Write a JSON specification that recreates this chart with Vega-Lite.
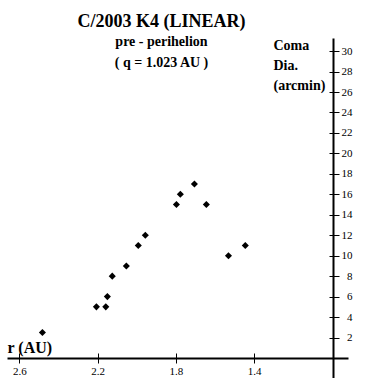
{
  "$schema": "https://vega.github.io/schema/vega-lite/v6.json",
  "width": 341,
  "height": 340,
  "autosize": {"type": "none"},
  "padding": {"left": 7, "top": 38, "right": 24, "bottom": 0},
  "background": "white",
  "title": {
    "text": "C/2003 K4 (LINEAR)",
    "subtitle": ["pre - perihelion", "( q = 1.023 AU )"],
    "anchor": "middle",
    "frame": "group",
    "font": "Liberation Serif",
    "fontSize": 18,
    "fontWeight": "bold",
    "color": "black",
    "subtitleFont": "Liberation Serif",
    "subtitleFontSize": 14,
    "subtitleFontWeight": "bold",
    "subtitleColor": "black",
    "subtitleLineHeight": 21,
    "subtitlePadding": 4,
    "offset": -32,
    "dx": -16
  },
  "data": {
    "values": [
      {"r": 2.482, "coma": 2.5},
      {"r": 2.206, "coma": 5},
      {"r": 2.158, "coma": 5},
      {"r": 2.150, "coma": 6},
      {"r": 2.125, "coma": 8},
      {"r": 2.053, "coma": 9},
      {"r": 1.992, "coma": 11},
      {"r": 1.956, "coma": 12},
      {"r": 1.797, "coma": 15},
      {"r": 1.777, "coma": 16},
      {"r": 1.705, "coma": 17},
      {"r": 1.644, "coma": 15},
      {"r": 1.531, "coma": 10},
      {"r": 1.445, "coma": 11}
    ]
  },
  "layer": [
    {
      "mark": {"type": "point", "shape": "diamond", "filled": true, "size": 50, "color": "black", "opacity": 1},
      "encoding": {
        "x": {
          "field": "r",
          "type": "quantitative",
          "scale": {"domain": [0.92, 2.663], "reverse": true, "nice": false, "zero": false},
          "axis": {
            "orient": "bottom",
            "offset": -20,
            "values": [2.6, 2.2, 1.8, 1.4],
            "format": ".1f",
            "tickSize": 5,
            "labelPadding": 2,
            "labelFont": "Liberation Serif",
            "labelFontSize": 11,
            "labelFlush": false,
            "labelOverlap": false,
            "title": "r (AU)",
            "titleX": 0,
            "titleY": -6,
            "titleAlign": "left",
            "titleBaseline": "alphabetic",
            "titleAngle": 0,
            "titleFont": "Liberation Serif",
            "titleFontSize": 16
          }
        },
        "y": {
          "field": "coma",
          "type": "quantitative",
          "scale": {"domain": [-1.955, 31.28], "nice": false, "zero": false},
          "axis": {
            "orient": "right",
            "offset": -15,
            "values": [2, 4, 6, 8, 10, 12, 14, 16, 18, 20, 22, 24, 26, 28, 30],
            "format": "d",
            "tickSize": 6,
            "labelAlign": "right",
            "labelPadding": 13,
            "labelFont": "Liberation Serif",
            "labelFontSize": 11,
            "labelFlush": false,
            "labelOverlap": false,
            "title": ["Coma", "Dia.", "(arcmin)"],
            "titleX": -60,
            "titleY": 11,
            "titleAlign": "left",
            "titleAngle": 0,
            "titleBaseline": "alphabetic",
            "titleLineHeight": 20,
            "titleFont": "Liberation Serif",
            "titleFontSize": 14
          }
        }
      }
    },
    {
      "mark": {"type": "point", "opacity": 0},
      "encoding": {
        "x": {
          "field": "r",
          "type": "quantitative",
          "axis": {"orient": "top", "offset": -320, "values": [2.6, 2.2, 1.8, 1.4], "tickSize": 5, "labels": false, "domain": false, "title": null}
        },
        "y": {
          "field": "coma",
          "type": "quantitative",
          "axis": {"orient": "left", "offset": -326, "values": [2, 4, 6, 8, 10, 12, 14, 16, 18, 20, 22, 24, 26, 28, 30], "tickSize": 4, "labels": false, "domain": false, "title": null}
        }
      }
    }
  ],
  "resolve": {"axis": {"x": "independent", "y": "independent"}},
  "config": {
    "view": {"stroke": null},
    "axis": {
      "grid": false,
      "domainColor": "black",
      "domainWidth": 2,
      "tickColor": "black",
      "tickWidth": 1,
      "labelColor": "black",
      "labelFont": "Liberation Serif",
      "labelFontSize": 11,
      "titleColor": "black",
      "titleFont": "Liberation Serif",
      "titleFontWeight": "bold"
    }
  }
}
